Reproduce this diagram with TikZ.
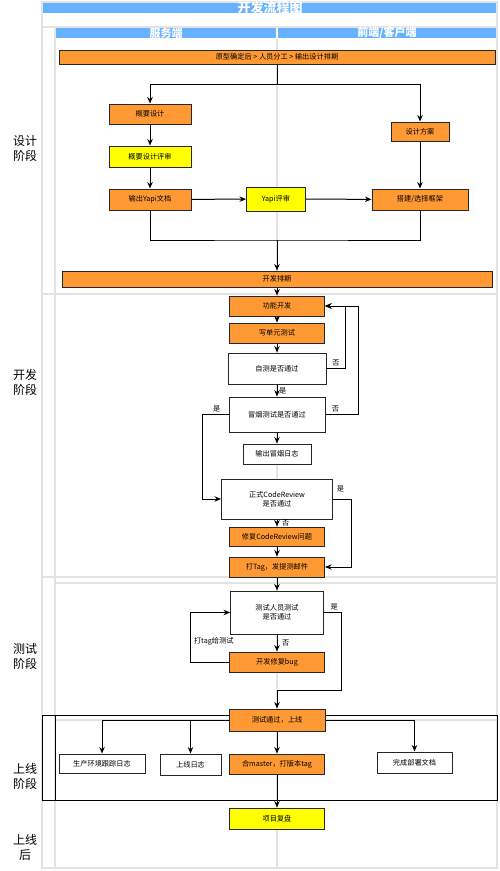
\documentclass[tikz,border=0pt]{standalone}
\usepackage{fontspec}
\setmainfont{Noto Sans CJK SC}
\usetikzlibrary{arrows.meta}
\definecolor{flowblue}{HTML}{66B2FF}
\definecolor{floworange}{HTML}{FF9933}
\definecolor{flowyellow}{HTML}{FFFF00}
\definecolor{lanegray}{HTML}{E3E3E3}

\begin{document}
\begin{tikzpicture}
  [x=1pt, y=-1pt,
  lane/.style={draw=lanegray, line width=1.6pt},
  box/.style={draw=black!85, line width=1pt, inner sep=1pt, align=center,
    font=\fontsize{7.2}{9}\selectfont},
  ob/.style={box, fill=floworange},
  yb/.style={box, fill=flowyellow},
  wb/.style={box, fill=white},
  flow/.style={draw, line width=1pt, -{Stealth[length=6.5pt, width=5.5pt]}},
  lbl/.style={font=\fontsize{7.2}{8}\selectfont, inner sep=1.5pt},
  phase/.style={font=\fontsize{12}{15}\selectfont, align=center},
  head/.style={text=white, inner sep=0pt}]
  \useasboundingbox (0,0) rectangle (500,871);
  \fill[white] (0,0) rectangle (500,871);

  % swimlanes
  \draw[lane] (42,2) rectangle (497,868);
  \draw[lane] (42,27) -- (497,27);
  \draw[lane] (55,27) -- (55,868);
  \draw[lane] (277,38) -- (277,868);
  \draw[lane] (42,294) -- (497,294);
  \draw[lane] (42,577) -- (497,577);
  \draw[lane] (55,583) -- (497,583);
  \draw[lane] (55,720) -- (497,720);
  \fill[flowblue] (43,3) rectangle (496,13);
  \fill[flowblue] (56,28) rectangle (276,38);
  \fill[flowblue] (278,28) rectangle (496,38);
  \node[head, font=\fontsize{13}{14}\selectfont\bfseries] (title) at (270,8) {开发流程图};
  \node[head, font=\fontsize{11}{12}\selectfont\bfseries] (server) at (166,33) {服务端};
  \node[head, font=\fontsize{11}{12}\selectfont\bfseries] (client) at (387,33) {前端/客户端};
  \draw[line width=1pt] (42,715) rectangle (497,800);
  \draw[line width=1pt] (55,715) -- (55,800);

  % phases
  \node[phase] (designph) at (25,148) {设计\\阶段};
  \node[phase] (devph) at (25,382) {开发\\阶段};
  \node[phase] (testph) at (25,656) {测试\\阶段};
  \node[phase] (onlineph) at (25,776) {上线\\阶段};
  \node[phase] (afterph) at (25,847) {上线\\后};

  % design
  \node[ob, minimum width=436pt, minimum height=14pt] (plan) at (277,57) {原型确定后 > 人员分工 > 输出设计排期};
  \node[ob, minimum width=82pt, minimum height=20pt] (outline) at (150,114) {概要设计};
  \node[yb, minimum width=82pt, minimum height=21pt] (outrev) at (150,156.5) {概要设计评审};
  \node[ob, minimum width=82pt, minimum height=21pt] (yapidoc) at (150,199.5) {输出Yapi文档};
  \node[yb, minimum width=59pt, minimum height=24pt] (yapirev) at (276,199) {Yapi评审};
  \node[ob, minimum width=58pt, minimum height=19pt] (fescheme) at (420,131.5) {设计方案};
  \node[ob, minimum width=96pt, minimum height=21pt] (scaffold) at (420,199.5) {搭建/选择框架};
  \node[ob, minimum width=430pt, minimum height=16pt] (devplan) at (277,279) {开发排期};

  % development
  \node[ob, minimum width=95pt, minimum height=20pt] (coding) at (277,306) {功能开发};
  \node[ob, minimum width=95pt, minimum height=20pt] (unit) at (277,333) {写单元测试};
  \node[wb, minimum width=98pt, minimum height=31pt] (selftest) at (277,368.5) {自测是否通过};
  \node[wb, minimum width=96pt, minimum height=35pt] (smoke) at (277,414.5) {冒烟测试是否通过};
  \node[wb, minimum width=68pt, minimum height=20pt] (smokelog) at (277,454) {输出冒烟日志};
  \node[wb, minimum width=111pt, minimum height=40pt] (review) at (277,499) {正式CodeReview\\是否通过};
  \node[ob, minimum width=95pt, minimum height=19pt] (fix) at (277,536.5) {修复CodeReview问题};
  \node[ob, minimum width=95pt, minimum height=20pt] (tag) at (277,567) {打Tag，发提测邮件};

  % test
  \node[wb, minimum width=93pt, minimum height=43pt] (tester) at (277,612.5) {测试人员测试\\是否通过};
  \node[ob, minimum width=95pt, minimum height=20pt] (bugfix) at (277,662) {开发修复bug};

  % online
  \node[ob, minimum width=96pt, minimum height=22pt] (golive) at (277,720) {测试通过，上线};
  \node[wb, minimum width=86pt, minimum height=19pt] (prodlog) at (102,763.5) {生产环境跟踪日志};
  \node[wb, minimum width=61pt, minimum height=21pt] (golivelog) at (190.5,764.5) {上线日志};
  \node[ob, minimum width=95pt, minimum height=20pt] (merge) at (277,764) {合master，打版本tag};
  \node[wb, minimum width=75pt, minimum height=21pt] (deploydoc) at (414.5,762.5) {完成部署文档};
  \node[yb, minimum width=95pt, minimum height=21pt] (recap) at (277,818.5) {项目复盘};

  % connectors
  \coordinate (split) at (277,84);
  \coordinate (join) at (277,240);
  \draw[line width=1pt] (plan.south) -- (split);
  \draw[flow] (split) -| (outline.north);
  \draw[flow] (split) -| (fescheme.north);
  \draw[flow] (outline) -- (outrev);
  \draw[flow] (outrev) -- (yapidoc);
  \draw[flow] (fescheme) -- (scaffold);
  \draw[flow] (yapidoc) -- (yapirev);
  \draw[flow] (yapirev) -- (scaffold);
  \draw[line width=1pt] (yapidoc.south) |- (join) -| (scaffold.south);
  \draw[flow] (join) -- (devplan.north);

  \draw[flow] (devplan) -- (coding);
  \draw[flow] (coding) -- (unit);
  \draw[flow] (unit) -- (selftest);
  \draw[flow] (selftest) -- node[lbl, right] (selfyes) {是} (smoke);
  \draw[flow] (selftest.east) -- node[lbl, above] (selfno) {否} ++(19,0) |- (coding.east);
  \draw[flow] (smoke.east) -- node[lbl, above, pos=0.3] (smokeno) {否} ++(33,0) |- (coding.east);
  \draw[flow] (smoke) -- (smokelog);
  \draw[flow] (smoke.west) -- node[lbl, above, pos=0.45] (smokeyes) {是} ++(-26,0) |- (review.west);
  \draw[flow] (review.east) -- ++(18,0) node[lbl, above left=5pt] (reviewyes) {是} |- (tag.east);
  \draw[flow] (review) -- node[lbl, right=3pt] (reviewno) {否} (fix);
  \draw[flow] (fix) -- (tag);

  \coordinate (passbend) at (341,690);
  \draw[flow] (tag) -- (tester);
  \draw[flow] (tester) -- node[lbl, right=3pt] (testno) {否} (bugfix);
  \draw[flow] (bugfix.west) -- ++(-39,0) |- node[lbl, anchor=west, pos=0.21, xshift=2pt] (retag) {打tag给测试} (tester.west);
  \draw[flow] (tester.east) -| node[lbl, above, pos=0.3] (testyes) {是} (passbend) -| (golive.north);

  \draw[flow] (golive.west) -| (prodlog.north);
  \draw[flow] (golive.west) -| (golivelog.north);
  \draw[flow] (golive.east) -| (deploydoc.north);
  \draw[flow] (golive) -- (merge);
  \draw[flow] (merge) -- (recap);
\end{tikzpicture}
\end{document}
